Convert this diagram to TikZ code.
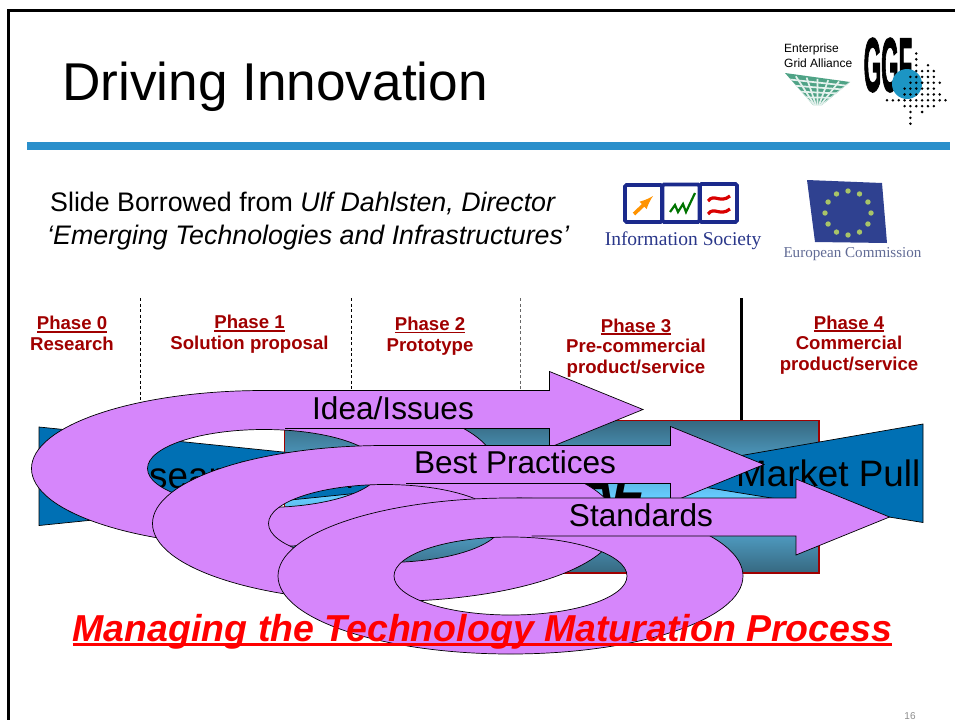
\documentclass[tikz,border=0pt]{standalone}
\usepackage{fontspec}
\setmainfont{Liberation Sans}
\newfontfamily\logoserif{Liberation Serif}
\newfontfamily\ggffont[FakeBold=2.5]{Liberation Sans Bold}
\usepackage{tikz}
\definecolor{ringlilac}{HTML}{D686FB}
\definecolor{phasered}{HTML}{A00000}
\definecolor{bandblue}{HTML}{2A8FCB}
\definecolor{pushblue}{HTML}{0070B4}
\definecolor{rectdark}{HTML}{366880}
\definecolor{rectlight}{HTML}{66CCFF}
\definecolor{logoblue}{HTML}{1B2A8C}
\definecolor{flagblue}{HTML}{2F4190}
\definecolor{gridgreen}{HTML}{4FA386}
\definecolor{ggfblue}{HTML}{1C95C4}
\definecolor{starlime}{HTML}{A8C468}
\newcommand{\phasefont}{\fontsize{18.6}{20.8}\selectfont\bfseries}
\newcommand{\ruledtext}[3]{\setbox0=\hbox{#3}\leavevmode\rlap{\rule[#1]{\wd0}{#2}}\box0}
\newcommand{\phasehead}[1]{\ruledtext{-3pt}{1.6pt}{#1}}
\tikzset{
  phaselabel/.style={text=phasered,align=center,inner sep=0pt,font=\phasefont},
  ringlabel/.style={inner sep=0pt,font=\fontsize{31.6}{32}\selectfont},
  pushlabel/.style={inner sep=0pt,anchor=base west,font=\fontsize{36.8}{37}\selectfont},
  phasedash/.style={thin,dash pattern=on 3pt off 2.5pt},
  ringarrow/.pic={
    \path[draw=black,fill=ringlilac,even odd rule,line width=.7pt]
      (0,0) ellipse [x radius=232.5pt,y radius=78pt]
      (0,0) ellipse [x radius=116.5pt,y radius=39pt];
    \fill[ringlilac] (6,-78) -- (285.5,-78) -- (285.5,-97) -- (379,-59)
      -- (285.5,-21) -- (285.5,-40) -- (21,-40) -- cycle;
    \draw[line width=.7pt] (6,-78) -- (285.5,-78) -- (285.5,-97) -- (379,-59)
      -- (285.5,-21) -- (285.5,-40) -- (21,-40);
  }
}
\begin{document}
\begin{tikzpicture}[x=1pt,y=-1pt]
\useasboundingbox (0,0) rectangle (955,720);
\draw[line width=3pt] (955,10) -- (8,10) -- (8,720);
\fill[bandblue] (27,142) rectangle (950,150);
\node[anchor=base west,inner sep=0pt,font=\fontsize{53.2}{54}\selectfont] (title) at (62,100) {Driving Innovation};

\node[anchor=base west,inner sep=0pt,font=\fontsize{26.8}{27}\selectfont] (slideone) at (50,211) {Slide Borrowed from \textit{Ulf Dahlsten, Director}};
\node[anchor=base west,inner sep=0pt,font=\fontsize{26.8}{27}\selectfont] (slidetwo) at (47,244) {\textit{‘Emerging Technologies and Infrastructures’}};

% logos
\node[anchor=base west,inner sep=0pt,font=\fontsize{12}{12}\selectfont] (ega1) at (784,52) {Enterprise};
\node[anchor=base west,inner sep=0pt,font=\fontsize{12}{12}\selectfont] (ega2) at (784,67) {Grid Alliance};
\begin{scope}
\clip (785,73) -- (850,82) -- (822,105) -- (813,105) -- cycle;
\fill[gridgreen] (780,70) rectangle (855,108);
\foreach \i in {0,...,6} {
  \draw[white!85!gridgreen,line width=1.7pt] (785+\i*10.8,75+\i*1.3) -- (813+\i*1.5,105);
}
\foreach \j in {1,...,4} {
  \draw[white!85!gridgreen,line width=1.7pt] (785,73+\j*6) -- (850,82+\j*4);
}
\end{scope}
\node[inner sep=0pt,xscale=.56,yscale=1.9,font=\fontsize{40}{40}\selectfont\ggffont] (ggf) at (888,65) {GGF};
\fill[ggfblue] (907,84) circle (15);
\foreach \row/\cols in {0/{5},1/{5},2/{5,7},3/{5,6,7,8},4/{4,5,6,7,8},5/{4,5,6,7,8,9},6/{3,4,5,6,7,8},7/{3,4,5,6,7,8,9},8/{0,1,2,3,4,5,6,7,8,9,10},9/{3,4,5,6,7,8},10/{4,6},11/{4},12/{4}} {
  \foreach \col in \cols {
    \fill (887+\col*5.85,53.5+\row*5.85) circle (1.4);
  }
}

\foreach \xa in {0,1,2} {
  \draw[logoblue,line width=3.6pt,rounded corners=1.5pt] (625+\xa*37.5,185-\xa*.5) rectangle (662+\xa*37.5,222);
}
\draw[orange!85!yellow,line width=3.6pt,-latex] (634,214) -- (653,196);
\draw[green!45!black,line width=2.2pt] (670,212) -- (675,205) -- (678,212) -- (683,204) -- (686,212) -- (695,193);
\draw[red!85!black,line width=3.2pt] (708,201) .. controls (714,193) and (720,204) .. (730,196);
\draw[red!85!black,line width=3.2pt] (708,214) .. controls (714,206) and (720,217) .. (730,209);
\node[inner sep=0pt,text=logoblue!85!gray,font=\fontsize{19.5}{20}\selectfont\logoserif] (infosoc) at (683,241) {Information Society};

\fill[flagblue] (807,180) -- (882,183) -- (887,243) -- (815,242) -- cycle;
\foreach \ang in {0,30,...,330} {
  \fill[starlime] (848,213)+(\ang:23 and 22) circle (2.7);
}
\node[inner sep=0pt,text=flagblue!60!gray!90,font=\fontsize{15.1}{16}\selectfont\logoserif] (eurocom) at (852.5,254) {European Commission};

% phases
\draw[phasedash] (140,298) -- (140,410);
\draw[phasedash] (351,298) -- (351,400);
\draw[phasedash,black!60] (520,298) -- (520,400);
\draw[line width=3pt] (741,298) -- (741,420);
\node[phaselabel] (phasezero) at (72,333.5) {\phasehead{Phase 0}\\Research};
\node[phaselabel] (phaseone) at (249.5,334.5) {\phasehead{Phase 1}\\Solution proposal};
\node[phaselabel] (phasetwo) at (430,336) {\phasehead{Phase 2}\\Prototype};
\node[phaselabel] (phasethree) at (636,348) {\phasehead{Phase 3}\\Pre-commercial\\product/service};
\node[phaselabel] (phasefour) at (849,345) {\phasehead{Phase 4}\\Commercial\\product/service};

% back shapes
\draw[phasered,line width=1.2pt,top color=rectdark,bottom color=rectdark,middle color=rectlight] (284.5,420.5) rectangle (819,573);
\node[anchor=base east,inner sep=0pt,font=\fontsize{50}{50}\selectfont\bfseries\itshape] (hiddenword) at (645,498) {AL};
\draw[fill=pushblue,line width=.7pt] (39,427) -- (522,476.5) -- (39,525.5) -- cycle;
\node[pushlabel] (researchpush) at (102,488) {Research Push};
\draw[fill=pushblue,line width=.7pt] (923,424) -- (629,475) -- (923,522.5) -- cycle;
\node[pushlabel] (marketpull) at (736,486) {Market Pull};

% rings
\pic at (264,468.5) {ringarrow};
\node[ringlabel] (ideaissues) at (393,408) {Idea/Issues};
\pic at (385,523.5) {ringarrow};
\node[ringlabel] (bestpractices) at (515,462) {Best Practices};
\pic at (510.5,576) {ringarrow};
\node[ringlabel] (standards) at (641,515) {Standards};

\node[anchor=base,inner sep=0pt,text=red,font=\fontsize{37.5}{38}\selectfont\bfseries\itshape] (managing) at (482.5,641) {\ruledtext{-4.5pt}{2.2pt}{Managing the Technology Maturation Process}};
\node[inner sep=0pt,text=black!45,font=\fontsize{10}{10}\selectfont] (pagenum) at (910,716) {16};
\end{tikzpicture}
\end{document}
